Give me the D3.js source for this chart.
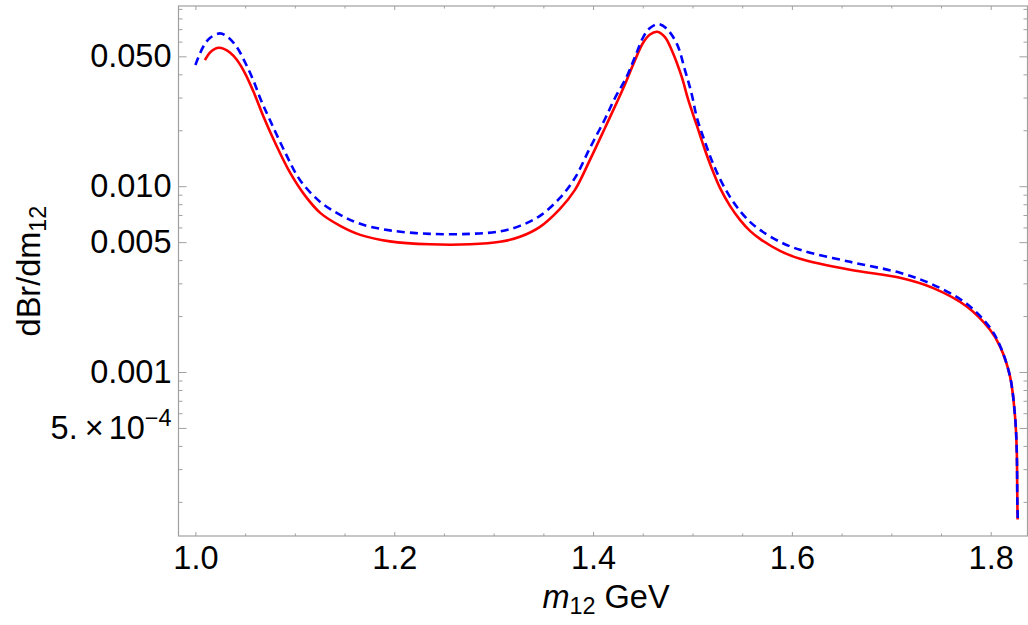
<!DOCTYPE html>
<html><head><meta charset="utf-8">
<script src="https://cdn.jsdelivr.net/npm/d3@7"></script>
<style>
body{margin:0;background:#fff;}
svg{display:block;}
text{font-family:"Liberation Sans",Arial,sans-serif;}
</style></head>
<body>
<svg id="chart" width="1028" height="625"></svg>
<script>
// ---- data ----
const redX = [1.00956,1.01459,1.01962,1.02364,1.02867,1.03471,1.04145,1.0498,1.05815,1.06821,1.08028,1.09537,1.11046,1.12555,1.14567,1.16579,1.19567,1.23592,1.27616,1.30634,1.32646,1.34658,1.3667,1.38179,1.39688,1.41197,1.42505,1.4331,1.44014,1.4502,1.45724,1.46459,1.47233,1.47907,1.48913,1.49577,1.50453,1.51258,1.51962,1.52767,1.53773,1.54779,1.55785,1.56791,1.58803,1.60815,1.65845,1.70875,1.74225,1.77586,1.7993,1.80936,1.81942,1.82445,1.82616,1.82676,1.82706];
const redY = [0.04775,0.05241,0.05486,0.05563,0.05486,0.05241,0.04805,0.04066,0.03253,0.02388,0.01709,0.01179,0.008867,0.007186,0.006116,0.005471,0.005049,0.004866,0.004866,0.005018,0.005339,0.00604,0.007551,0.009552,0.01385,0.02058,0.02911,0.03637,0.04489,0.05894,0.06549,0.06781,0.06348,0.05405,0.03884,0.02911,0.0211,0.01567,0.01239,0.009792,0.007837,0.006588,0.005748,0.005208,0.004489,0.004066,0.003548,0.003214,0.002829,0.002253,0.001688,0.001373,0.0009469,0.0005772,0.0003822,0.0002058,0.0001606];
const blueX = [1.0,1.00785,1.01459,1.02465,1.0327,1.04145,1.0498,1.05815,1.0659,1.07495,1.09004,1.10513,1.12555,1.14567,1.16579,1.19567,1.23592,1.27616,1.30634,1.32646,1.34658,1.3667,1.38179,1.39688,1.41197,1.42203,1.4338,1.44215,1.4505,1.45724,1.46559,1.47334,1.4841,1.49245,1.4992,1.50453,1.51258,1.51962,1.52767,1.53773,1.54779,1.55785,1.56791,1.58803,1.60815,1.65845,1.70875,1.74225,1.77586,1.7993,1.80936,1.81942,1.82445,1.82616,1.82676,1.82726];
const blueY = [0.04489,0.0563,0.06271,0.06646,0.06348,0.0563,0.04659,0.03728,0.02911,0.02272,0.01529,0.01081,0.008233,0.00701,0.006272,0.005783,0.00554,0.00554,0.005715,0.006116,0.006925,0.008651,0.01108,0.01607,0.023,0.02984,0.03884,0.04958,0.06348,0.07099,0.07458,0.07099,0.05873,0.0422,0.03135,0.02329,0.0173,0.01368,0.01094,0.008759,0.007366,0.006428,0.005821,0.005018,0.004545,0.003917,0.003418,0.002946,0.002329,0.00173,0.001385,0.0009469,0.0005772,0.0003822,0.0002058,0.0001586];

const xMajor = [1.0,1.2,1.4,1.6,1.8];
const xMajorLabels = ["1.0","1.2","1.4","1.6","1.8"];
const xMinor = [1.05,1.1,1.15,1.25,1.3,1.35,1.45,1.5,1.55,1.65,1.7,1.75];
const yMajor = [0.05,0.01,0.005,0.001,0.0005];
const yMajorLabels = ["0.050","0.010","0.005","0.001","5.×10^-4"];
const yMinor = [0.09,0.08,0.07,0.06,0.04,0.03,0.02,0.009,0.008,0.007,0.006,0.004,0.003,0.002,0.0009,0.0008,0.0007,0.0006,0.0004,0.0003,0.0002];
const xTitle = ["m","12"," GeV"];
const yTitle = ["dBr/dm","12"];

// ---- layout ----
const L = 178.5, R = 1027.5, T = 6, B = 536;
const svg = d3.select("#chart");
const x = d3.scaleLinear().domain([0.983, 1.837]).range([L, R]);
const y = d3.scaleLog().domain([1.31e-4, 0.0933]).range([B, T]);

const frameColor = "#a0a0a0";
const fs = 32.5;
const tfs = 32.5;

function styleAxis(g){
  g.select(".domain").remove();
  g.selectAll(".tick line").attr("stroke", frameColor).attr("stroke-width",1);
  g.selectAll("text").attr("font-size", fs).attr("fill","#000").attr("font-family","Liberation Sans, Arial, sans-serif");
}

// frame
svg.append("rect").attr("x",L).attr("y",T).attr("width",R-L).attr("height",B-T)
  .attr("fill","none").attr("stroke",frameColor).attr("stroke-width",1.2);

// bottom axis
svg.append("g").attr("transform",`translate(0,${B})`)
  .call(d3.axisBottom(x).tickValues(xMajor).tickSize(-4).tickPadding(10)
    .tickFormat((d,i)=>xMajorLabels[i])).call(styleAxis);
svg.append("g").attr("transform",`translate(0,${B})`)
  .call(d3.axisBottom(x).tickValues(xMinor).tickSize(-2.5).tickFormat("")).call(styleAxis);
// top axis
svg.append("g").attr("transform",`translate(0,${T})`)
  .call(d3.axisTop(x).tickValues(xMajor).tickSize(-4).tickFormat("")).call(styleAxis);
svg.append("g").attr("transform",`translate(0,${T})`)
  .call(d3.axisTop(x).tickValues(xMinor).tickSize(-2.5).tickFormat("")).call(styleAxis);

// left axis
const gl = svg.append("g").attr("transform",`translate(${L},0)`)
  .call(d3.axisLeft(y).tickValues(yMajor).tickSize(-8).tickPadding(7)
    .tickFormat((d,i)=>yMajorLabels[i])).call(styleAxis);
svg.append("g").attr("transform",`translate(${L},0)`)
  .call(d3.axisLeft(y).tickValues(yMinor).tickSize(-4).tickFormat("")).call(styleAxis);
// right axis
svg.append("g").attr("transform",`translate(${R},0)`)
  .call(d3.axisRight(y).tickValues(yMajor).tickSize(-8).tickFormat("")).call(styleAxis);
svg.append("g").attr("transform",`translate(${R},0)`)
  .call(d3.axisRight(y).tickValues(yMinor).tickSize(-4).tickFormat("")).call(styleAxis);

// rich label for scientific notation
gl.selectAll(".tick text").each(function(){
  const t = d3.select(this); const s = t.text();
  if (s.includes("^")) {
    const [mant, exp] = s.split("^");
    const parts = mant.split("×");
    t.text(null);
    t.append("tspan").text(parts[0]);
    t.append("tspan").attr("dx",7).text("×");
    t.append("tspan").attr("dx",5).text(parts[1]);
    t.append("tspan").attr("dy",-13).attr("font-size",fs*0.72).text(exp.replace("-","\u2212"));
  }
});

// curves
const line = d3.line().x(d=>x(d[0])).y(d=>y(d[1])).curve(d3.curveCatmullRom.alpha(0.5));
const redData = redX.map((v,i)=>[v,redY[i]]);
const blueData = blueX.map((v,i)=>[v,blueY[i]]);
svg.append("path").datum(redData).attr("d",line).attr("fill","none")
  .attr("stroke","#ff0000").attr("stroke-width",2.6);
svg.append("path").datum(blueData).attr("d",line).attr("fill","none")
  .attr("stroke","#0000ff").attr("stroke-width",2.6).attr("stroke-dasharray","8,5");

// axis titles
const xt = svg.append("text").attr("x",(L+R)/2+3).attr("y",608).attr("text-anchor","middle")
  .attr("font-size",tfs);
xt.append("tspan").attr("font-style","italic").text(xTitle[0]);
xt.append("tspan").attr("font-size",tfs*0.72).attr("dy",6).text(xTitle[1]);
xt.append("tspan").attr("dy",-6).text(xTitle[2]);

const yt = svg.append("text").attr("transform",`translate(40,${(T+B)/2}) rotate(-90)`)
  .attr("text-anchor","middle").attr("font-size",tfs);
yt.append("tspan").text(yTitle[0]);
yt.append("tspan").attr("font-size",tfs*0.72).attr("dy",6).text(yTitle[1]);
</script>
</body></html>
